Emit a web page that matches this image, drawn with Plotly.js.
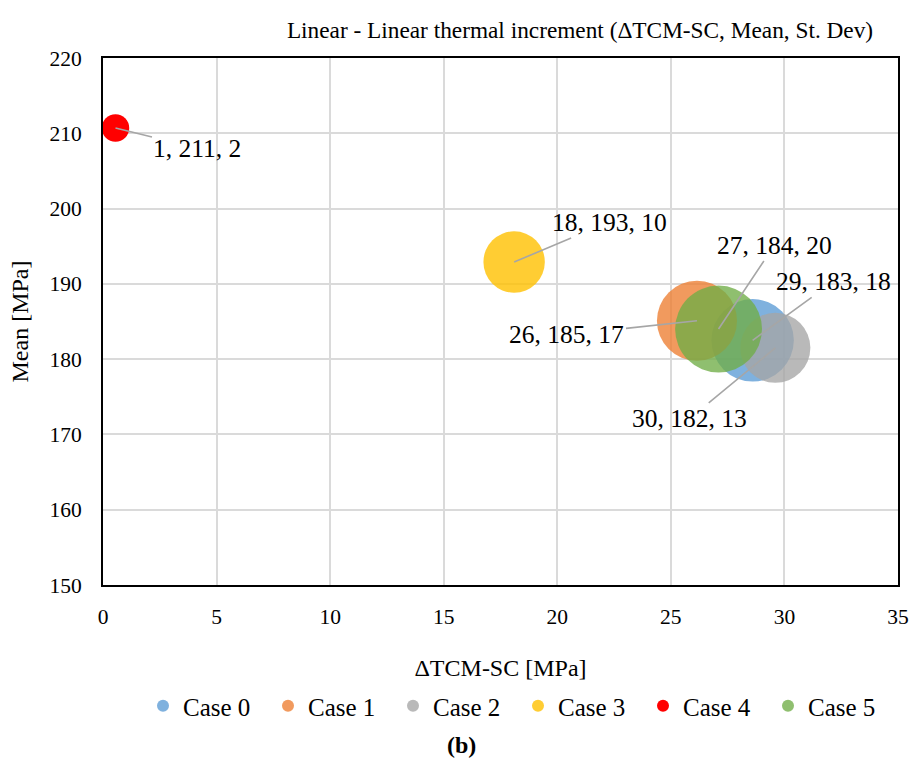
<!DOCTYPE html>
<html>
<head>
<meta charset="utf-8">
<script src="https://cdn.plot.ly/plotly-3.0.1.min.js"></script>
<style>html,body{margin:0;padding:0;background:#fff;}#chart{width:919px;height:780px;}</style>
</head>
<body>
<div id="chart"></div>
<script>
// Data
const caseNames = ["Case 0", "Case 1", "Case 2", "Case 3", "Case 4", "Case 5"];
const deltaTCM = [28.6, 26.15, 29.6, 18.1, 0.55, 27.1];      // ΔTCM-SC [MPa]
const meanVals = [182.5, 185.1, 181.5, 192.9, 210.7, 184.0]; // Mean [MPa]
const stDev = [18, 17, 13, 10, 2, 20];                        // St. Dev (bubble size)
const caseColors = ["#5B9BD5", "#ED7D31", "#A5A5A5", "#FFC000", "#FF0000", "#70AD47"];
const caseOpacity = [0.78, 0.78, 0.78, 0.8, 1, 0.78];
// label offsets (pixels) of each data label from its bubble
const labelOffsets = [[81, -59], [-130, 14], [-86, 71], [95, -40], [82, 20], [56, -84]];

const FONT = "Liberation Serif, Times New Roman, serif";

const traces = caseNames.map((name, i) => ({
  type: "scatter",
  mode: "markers",
  name: name,
  x: [deltaTCM[i]],
  y: [meanVals[i]],
  cliponaxis: false,
  marker: {
    size: [stDev[i]],
    sizemode: "area",
    sizeref: 0.0053,
    color: caseColors[i],
    opacity: caseOpacity[i],
    line: {width: 0}
  },
  hoverinfo: "x+y+text",
  text: ["St. Dev " + stDev[i]]
}));

const annotations = caseNames.map((name, i) => ({
  x: deltaTCM[i],
  y: meanVals[i],
  xref: "x",
  yref: "y",
  text: Math.round(deltaTCM[i]) + ", " + Math.round(meanVals[i]) + ", " + stDev[i],
  showarrow: true,
  arrowhead: 0,
  arrowwidth: 1.6,
  arrowcolor: "#A6A6A6",
  standoff: 0,
  ax: labelOffsets[i][0],
  ay: labelOffsets[i][1],
  font: {family: FONT, size: 25.5, color: "#000"}
}));

annotations.push({
  text: "<b>(b)</b>",
  xref: "paper", yref: "paper",
  x: (461 - 103) / 795, y: -(745 - 585) / 527,
  xanchor: "center", yanchor: "middle",
  showarrow: false,
  font: {family: FONT, size: 24, color: "#000"}
});

const layout = {
  width: 919,
  height: 780,
  paper_bgcolor: "#fff",
  plot_bgcolor: "#fff",
  margin: {l: 103, r: 21, t: 58, b: 195},
  font: {family: FONT, color: "#000"},
  title: {
    text: "Linear - Linear thermal increment (ΔTCM-SC, Mean, St. Dev)",
    font: {family: FONT, size: 23.3, color: "#000"},
    xref: "container", yref: "container",
    x: 580 / 919, xanchor: "center",
    y: 1 - 30 / 780, yanchor: "middle"
  },
  xaxis: {
    range: [0, 35],
    dtick: 5,
    tick0: 0,
    showgrid: true,
    gridcolor: "#DADADA",
    gridwidth: 2,
    zeroline: false,
    showline: true,
    linecolor: "#000",
    linewidth: 2,
    mirror: true,
    ticks: "",
    ticklabelstandoff: 11,
    tickfont: {family: FONT, size: 21.5, color: "#000"},
    title: {text: "ΔTCM-SC [MPa]", font: {family: FONT, size: 24, color: "#000"}, standoff: 31},
    fixedrange: true
  },
  yaxis: {
    range: [150, 220],
    dtick: 10,
    tick0: 150,
    showgrid: true,
    gridcolor: "#DADADA",
    gridwidth: 2,
    zeroline: false,
    showline: true,
    linecolor: "#000",
    linewidth: 2,
    mirror: true,
    ticks: "",
    ticklabelstandoff: 15,
    tickfont: {family: FONT, size: 21.5, color: "#000"},
    title: {text: "Mean [MPa]", font: {family: FONT, size: 24, color: "#000"}, standoff: 14},
    fixedrange: true
  },
  showlegend: true,
  legend: {
    orientation: "h",
    xref: "paper", yref: "paper",
    x: (143 - 103) / 795, xanchor: "left",
    y: -(706 - 585) / 527, yanchor: "middle",
    font: {family: FONT, size: 25, color: "#000"},
    itemsizing: "constant",
    entrywidth: 80,
    itemwidth: 30,
    tracegroupgap: 0,
    bgcolor: "rgba(0,0,0,0)"
  },
  annotations: annotations
};

Plotly.newPlot("chart", traces, layout, {displayModeBar: false, staticPlot: true});
</script>
</body>
</html>
